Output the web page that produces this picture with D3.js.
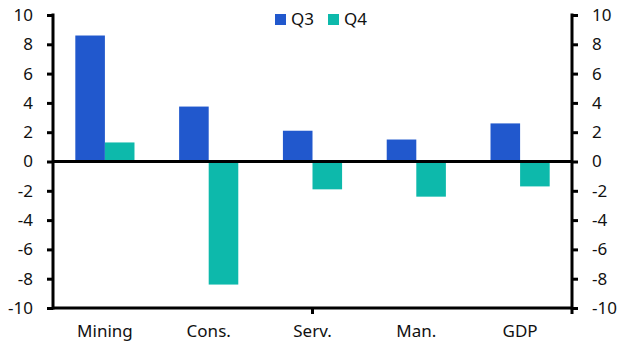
<!DOCTYPE html>
<html><head><meta charset="utf-8">
<script src="https://cdn.jsdelivr.net/npm/d3@7"></script>
<style>body{margin:0;background:#fff}svg{display:block}text{font-family:"Noto Sans",sans-serif;fill:#111}</style>
</head><body><svg id="c" width="631" height="357"></svg>
<script>
const categories = ["Mining","Cons.","Serv.","Man.","GDP"];
const seriesNames = ["Q3","Q4"];
const q3 = [8.6, 3.75, 2.1, 1.5, 2.6];
const q4 = [1.3, -8.4, -1.9, -2.4, -1.7];
const yTicks = [-10,-8,-6,-4,-2,0,2,4,6,8,10];
const colors = ["#2158CD","#0DB9AB"];

const svg = d3.select("#c");
const L = 53, R = 572, T = 15, B = 308;
const FS = 17;
const x = d3.scaleBand().domain(categories).range([L,R]).paddingInner(0.43).paddingOuter(0.215);
const xs = d3.scaleBand().domain(seriesNames).range([0,x.bandwidth()]);
const y = d3.scaleLinear().domain([-10,10]).range([B,T]);
const data = categories.map((c,i)=>({c, v:[q3[i],q4[i]]}));

const g = svg.append("g");
g.selectAll("g.cat").data(data).join("g").attr("transform",d=>`translate(${x(d.c)},0)`)
 .selectAll("rect").data(d=>d.v.map((v,j)=>({v,s:seriesNames[j],j}))).join("rect")
 .attr("x",d=>xs(d.s)).attr("width",xs.bandwidth())
 .attr("y",d=>y(Math.max(0,d.v))).attr("height",d=>Math.abs(y(d.v)-y(0)))
 .attr("fill",d=>colors[d.j]);

svg.append("line").attr("x1",L).attr("x2",R).attr("y1",y(0)).attr("y2",y(0)).attr("stroke","#000").attr("stroke-width",3);

const fmt = d=>String(d);
const yl = svg.append("g").attr("transform",`translate(${L},0)`).call(d3.axisLeft(y).tickValues(yTicks).tickFormat(fmt).tickSize(6).tickPadding(14).tickSizeOuter(0));
const yr = svg.append("g").attr("transform",`translate(${R},0)`).call(d3.axisRight(y).tickValues(yTicks).tickFormat(fmt).tickSize(6).tickPadding(14).tickSizeOuter(0));
[yl,yr].forEach(a=>{a.select(".domain").attr("stroke-width",3).attr("d",`M0,${T-1.5}V${B+1.5}`);a.selectAll(".tick line").attr("stroke-width",3);a.selectAll("text").attr("font-size",FS).attr("font-family","Noto Sans").attr("fill","#111");});

const xb = svg.append("g").attr("transform",`translate(0,${B})`).call(d3.axisBottom(x).tickSize(0).tickPadding(17));
xb.select(".domain").attr("stroke-width",3).attr("d",`M${L},0H${R}`);
xb.selectAll("text").attr("font-size",FS).attr("font-family","Noto Sans").attr("fill","#111");
xb.append("line").attr("x1",x("Serv.")+x.bandwidth()/2).attr("x2",x("Serv.")+x.bandwidth()/2).attr("y1",0).attr("y2",6).attr("stroke","#000").attr("stroke-width",3);
xb.append("line").attr("x1",R).attr("x2",R).attr("y1",0).attr("y2",6).attr("stroke","#000").attr("stroke-width",3);

const leg = svg.append("g");
const lx = [275, 328];
seriesNames.forEach((s,i)=>{
  leg.append("rect").attr("x",lx[i]).attr("y",14).attr("width",11).attr("height",11).attr("fill",colors[i]);
  leg.append("text").attr("x",lx[i]+16).attr("y",25).attr("font-size",FS).text(s);
});
</script></body></html>
